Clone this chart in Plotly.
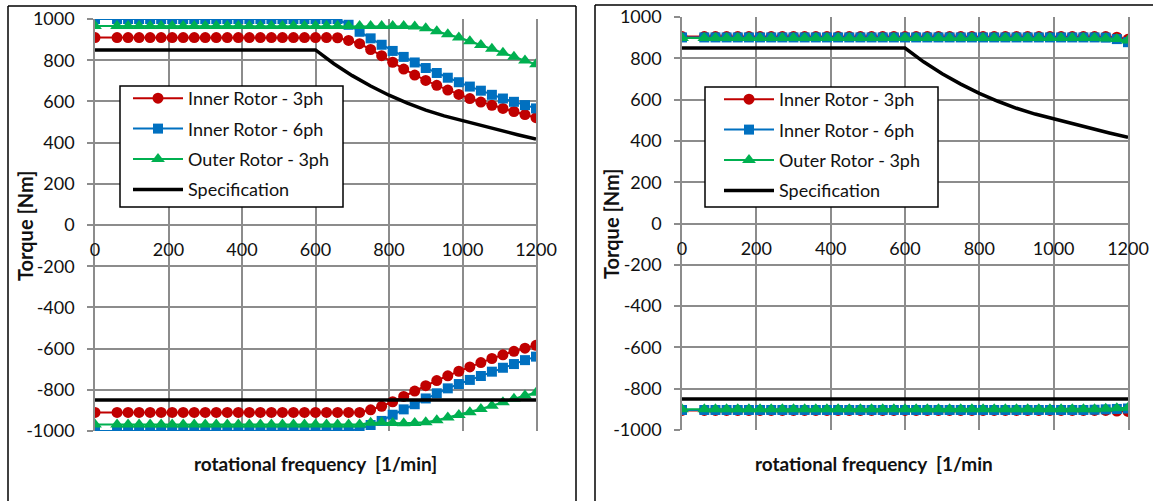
import plotly.graph_objects as go

W, H = 1153, 501

# ---------------- data ----------------
speed = [0, 60, 90, 120, 150, 180, 210, 240, 270, 300, 330, 360, 390, 420, 450, 480, 510, 540, 570, 600,
         630, 660, 690, 720, 750, 780, 810, 840, 870, 900, 930, 960, 990, 1020, 1050, 1080, 1110, 1140, 1170, 1200]

# left chart, motoring (positive)
inner3_pos_L = [910, 910, 910, 910, 910, 910, 910, 910, 910, 910, 910, 910, 910, 910, 910, 910, 910, 910, 910, 910,
                910, 909, 896, 880, 852, 822, 790, 757, 728, 702, 678, 655, 634, 614, 597, 581, 566, 551, 536, 521]
inner6_pos_L = [1000, 1000, 1000, 1000, 1000, 1000, 1000, 1000, 1000, 1000, 1000, 1000, 1000, 1000, 1000, 1000, 1000, 1000, 1000, 1000,
                1000, 1000, 972, 938, 906, 875, 845, 816, 789, 762, 738, 715, 693, 672, 652, 632, 614, 598, 582, 566]
outer3_pos_L = [966, 966, 966, 966, 966, 966, 966, 966, 966, 966, 966, 966, 966, 966, 966, 966, 966, 966, 966, 966,
                966, 966, 966, 966, 966, 966, 966, 966, 963, 955, 940, 926, 910, 892, 874, 855, 836, 817, 798, 780]
# left chart, generating (negative)
inner3_neg_L = [-910, -910, -910, -910, -910, -910, -910, -910, -910, -910, -910, -910, -910, -910, -910, -910, -910, -910, -910, -910,
                -910, -910, -910, -910, -897, -880, -858, -832, -806, -780, -755, -732, -710, -689, -668, -648, -630, -613, -598, -584]
inner6_neg_L = [-1000, -1000, -1000, -1000, -1000, -1000, -1000, -1000, -1000, -1000, -1000, -1000, -1000, -1000, -1000, -1000, -1000, -1000, -1000, -1000,
                -1000, -1000, -1000, -990, -971, -951, -921, -895, -870, -842, -817, -793, -772, -752, -733, -712, -693, -675, -656, -639]
outer3_neg_L = [-968, -968, -968, -968, -968, -968, -968, -968, -968, -968, -968, -968, -968, -968, -968, -968, -968, -968, -968, -968,
                -968, -968, -968, -968, -960, -959, -961, -962, -961, -958, -948, -935, -922, -909, -893, -877, -860, -843, -828, -814]

# right chart
inner3_pos_R = [905, 905, 905, 905, 905, 905, 905, 905, 905, 905, 905, 905, 905, 905, 905, 905, 905, 905, 905, 905,
                905, 905, 905, 905, 905, 905, 905, 905, 905, 905, 905, 905, 905, 905, 905, 905, 905, 905, 902, 892]
inner6_pos_R = [901, 901, 901, 901, 901, 901, 901, 901, 901, 901, 901, 901, 901, 901, 901, 901, 901, 901, 901, 901,
                901, 901, 901, 901, 901, 901, 901, 901, 901, 901, 901, 901, 901, 901, 901, 901, 901, 900, 893, 878]
outer3_pos_R = [898, 898, 898, 898, 898, 898, 898, 898, 898, 898, 898, 898, 898, 898, 898, 898, 898, 898, 898, 898,
                898, 898, 898, 898, 898, 898, 898, 898, 898, 898, 898, 898, 898, 898, 898, 898, 898, 896, 893, 886]
inner3_neg_R = [-905, -905, -905, -905, -905, -905, -905, -905, -905, -905, -905, -905, -905, -905, -905, -905, -905, -905, -905, -905,
                -905, -905, -905, -905, -905, -905, -905, -905, -905, -905, -905, -905, -905, -905, -905, -905, -905, -905, -908, -910]
inner6_neg_R = [-903, -903, -903, -903, -903, -903, -903, -903, -903, -903, -903, -903, -903, -903, -903, -903, -903, -903, -903, -903,
                -903, -903, -903, -903, -903, -903, -903, -903, -903, -903, -903, -903, -903, -903, -903, -903, -902, -900, -898, -896]
outer3_neg_R = [-900, -900, -900, -900, -900, -900, -900, -900, -900, -900, -900, -900, -900, -900, -900, -900, -900, -900, -900, -900,
                -900, -900, -900, -900, -900, -900, -900, -900, -900, -900, -900, -900, -900, -900, -900, -900, -899, -897, -895, -892]

# specification envelope
spec_speed = [0, 600, 650, 700, 750, 800, 850, 900, 950, 1000, 1050, 1100, 1150, 1200]
spec_pos = [850, 850, 783, 725, 675, 630, 592, 558, 530, 506, 482, 460, 438, 417]
spec_neg_speed = [0, 1200]
spec_neg = [-850, -850]

series_names = ["Inner Rotor - 3ph", "Inner Rotor - 6ph", "Outer Rotor - 3ph", "Specification"]
x_ticks = [0, 200, 400, 600, 800, 1000, 1200]
x_tick_text = ["0", "200", "400", "600", "800", "1000", "1200"]
y_ticks = [-1000, -800, -600, -400, -200, 0, 200, 400, 600, 800, 1000]
y_tick_text = ["-1000", "-800", "-600", "-400", "-200", "0", "200", "400", "600", "800", "1000"]
x_title_L = "rotational frequency  [1/min]"
x_title_R = "rotational frequency  [1/min"
y_title = "Torque [Nm]"

# ---------------- styles ----------------
RED, BLUE, GREEN, BLACK = "#C00000", "#0070C0", "#00B050", "#000000"
GRID = "#8c8c8c"
FONT = "Lato"
TXT = "#111111"

styles = [
    dict(color=RED, symbol="circle", size=11),
    dict(color=BLUE, symbol="square", size=10),
    dict(color=GREEN, symbol="triangle-up", size=12),
]

fig = go.Figure()


def add_panel(pos_sets, neg_sets, xa, ya, legend):
    for i, (pos, neg) in enumerate(zip(pos_sets, neg_sets)):
        st = styles[i]
        for j, yv in enumerate((pos, neg)):
            fig.add_trace(go.Scatter(
                x=speed, y=yv, xaxis=xa, yaxis=ya, mode="lines+markers",
                name=series_names[i], legendgroup=f"{legend}{i}", showlegend=(j == 0),
                legend=legend,
                line=dict(color=st["color"], width=2),
                marker=dict(color=st["color"], symbol=st["symbol"], size=st["size"], line=dict(width=0)),
            ))
    fig.add_trace(go.Scatter(
        x=spec_speed, y=spec_pos, xaxis=xa, yaxis=ya, mode="lines", name=series_names[3],
        legendgroup=f"{legend}3", legend=legend, line=dict(color=BLACK, width=3.5)))
    fig.add_trace(go.Scatter(
        x=spec_neg_speed, y=spec_neg, xaxis=xa, yaxis=ya, mode="lines", name=series_names[3],
        legendgroup=f"{legend}3", legend=legend, showlegend=False, line=dict(color=BLACK, width=3.5)))


add_panel([inner3_pos_L, inner6_pos_L, outer3_pos_L], [inner3_neg_L, inner6_neg_L, outer3_neg_L], "x", "y", "legend")
add_panel([inner3_pos_R, inner6_pos_R, outer3_pos_R], [inner3_neg_R, inner6_neg_R, outer3_neg_R], "x2", "y2", "legend2")


def px_x(p):
    return p / W


def px_y(p):
    return (H - p) / H


def xaxis_cfg(l, r, zero_y):
    return dict(domain=[px_x(l), px_x(r)], range=[0, 1200], tickvals=x_ticks, ticktext=x_tick_text,
                anchor="free", position=px_y(zero_y), showgrid=True, gridcolor=GRID, gridwidth=1.5,
                zeroline=False, showline=False, ticks="", ticklabelstandoff=12, automargin=False,
                tickfont=dict(family=FONT, size=18, color=TXT))


def yaxis_cfg(t, b, xa):
    return dict(domain=[px_y(b), px_y(t)], range=[-1000, 1000], tickvals=y_ticks, ticktext=y_tick_text,
                anchor=xa, showgrid=True, gridcolor=GRID, gridwidth=1.5, zeroline=True, zerolinecolor=GRID,
                zerolinewidth=1.5, showline=True, mirror=True, linecolor=GRID, linewidth=1.5,
                ticks="outside", ticklen=6, tickcolor=GRID, tickwidth=1.5, ticklabelstandoff=9,
                automargin=False, tickfont=dict(family=FONT, size=18, color=TXT))


legend_common = dict(font=dict(family=FONT, size=18, color=TXT), bgcolor="rgba(0,0,0,0)",
                     borderwidth=0, xanchor="left", yanchor="top", traceorder="grouped",
                     tracegroupgap=4, itemwidth=50)


def vline(x, y0, y1):
    return dict(type="line", xref="paper", yref="paper", x0=px_x(x), x1=px_x(x), y0=px_y(y0), y1=px_y(y1),
                line=dict(color="black", width=1.5), layer="below")


def hline(x0, x1, y):
    return dict(type="line", xref="paper", yref="paper", x0=px_x(x0), x1=px_x(x1), y0=px_y(y), y1=px_y(y),
                line=dict(color="black", width=1.5), layer="below")


fig.update_layout(
    template="none",
    width=W, height=H, margin=dict(l=0, r=0, t=0, b=0, pad=0, autoexpand=False), autosize=False,
    paper_bgcolor="white", plot_bgcolor="white",
    xaxis=xaxis_cfg(95, 536, 225), yaxis=yaxis_cfg(19, 431, "x"),
    xaxis2=xaxis_cfg(682, 1128, 223.5), yaxis2=yaxis_cfg(17, 430, "x2"),
    legend=dict(x=px_x(128), y=px_y(80), **legend_common),
    legend2=dict(x=px_x(719), y=px_y(81), **legend_common),
    shapes=[
        # chart frames (bottom / far right lie outside the picture)
        vline(8, 501, 6), hline(8, 576, 6), vline(576, 501, 6),
        vline(595, 501, 5), hline(595, 1153, 5),
        # legend boxes
        dict(type="rect", xref="paper", yref="paper", x0=px_x(120), x1=px_x(343), y0=px_y(207), y1=px_y(86),
             line=dict(color="black", width=1.5), fillcolor="white", layer="above"),
        dict(type="rect", xref="paper", yref="paper", x0=px_x(705), x1=px_x(938), y0=px_y(207), y1=px_y(87),
             line=dict(color="black", width=1.5), fillcolor="white", layer="above"),
    ],
    annotations=[
        dict(text=f"<b>{x_title_L}</b>", xref="paper", yref="paper", x=px_x(315), y=px_y(463),
             showarrow=False, font=dict(family=FONT, size=19, color=TXT), xanchor="center", yanchor="middle"),
        dict(text=f"<b>{x_title_R}</b>", xref="paper", yref="paper", x=px_x(874), y=px_y(463),
             showarrow=False, font=dict(family=FONT, size=19, color=TXT), xanchor="center", yanchor="middle"),
        dict(text=f"<b>{y_title}</b>", xref="paper", yref="paper", x=px_x(25), y=px_y(226), textangle=-90,
             showarrow=False, font=dict(family=FONT, size=20, color=TXT), xanchor="center", yanchor="middle"),
        dict(text=f"<b>{y_title}</b>", xref="paper", yref="paper", x=px_x(611), y=px_y(224), textangle=-90,
             showarrow=False, font=dict(family=FONT, size=20, color=TXT), xanchor="center", yanchor="middle"),
    ],
)

fig.write_html(
    "out.html",
    config={"displayModeBar": False},
    post_script="document.body.style.margin='0';document.body.style.padding='0';"
                "document.documentElement.style.overflow='hidden';document.body.style.overflow='hidden';",
)
